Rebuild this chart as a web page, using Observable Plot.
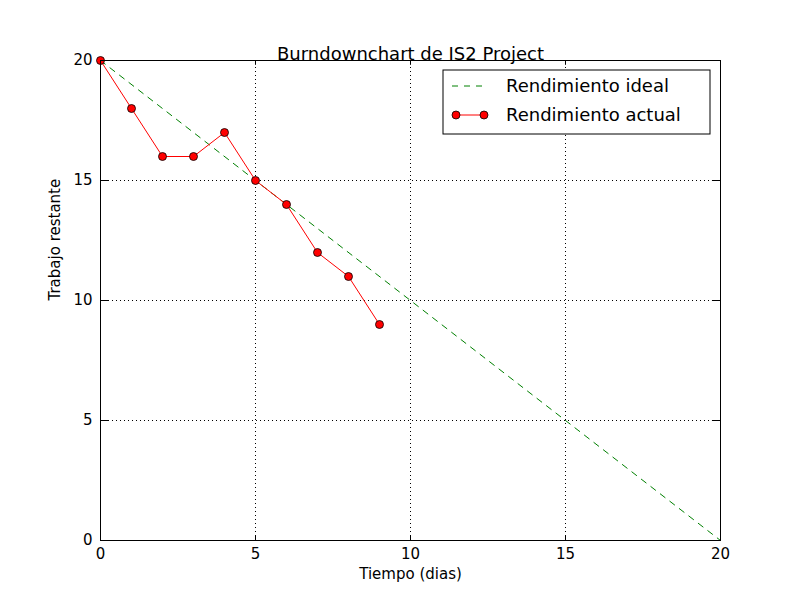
<!DOCTYPE html>
<html><head><meta charset="utf-8">
<script src="https://cdn.jsdelivr.net/npm/d3@7"></script>
<script src="https://cdn.jsdelivr.net/npm/@observablehq/plot@0.6"></script>
<style>body{margin:0;background:#fff}</style>
</head><body><div id="chart"></div>
<script>
const dias = [0,1,2,3,4,5,6,7,8,9]
const actual = [20,18,16,16,17,15,14,12,11,9]
const idealX = [0,20]
const idealY = [20,0]
const ticks = [0,5,10,15,20]

const ideal = idealX.map((d,i)=>({x:d, y:idealY[i]}))
const real = dias.map((d,i)=>({x:d, y:actual[i]}))

let chart = Plot.plot({
    width: 800, height: 600,
    marginLeft: 100, marginRight: 80, marginTop: 60, marginBottom: 60,
    style: {fontFamily: "DejaVu Sans", fontSize: "15px", background: "white"},
    x: {domain: [0,20], ticks: ticks, label: null},
    y: {domain: [0,20], ticks: ticks, label: null},
    marks: [
        Plot.ruleX(ticks, {x: d=>d, y1: 0, y2: 20, stroke: "black", strokeDasharray: "1,3"}),
        Plot.ruleY(ticks, {y: d=>d, x1: 0, x2: 20, stroke: "black", strokeDasharray: "1,3"}),
        Plot.axisX({ticks: ticks, tickSize: 0, tickPadding: 8, fill: "black"}),
        Plot.axisY({ticks: ticks, tickSize: 0, tickPadding: 8, fill: "black"}),
        Plot.ruleX(ticks, {x: d=>d, y1: 0, y2: 0.2, stroke: "black"}),
        Plot.ruleX(ticks, {x: d=>d, y1: 19.8, y2: 20, stroke: "black"}),
        Plot.ruleY(ticks, {y: d=>d, x1: 0, x2: 0.26, stroke: "black"}),
        Plot.ruleY(ticks, {y: d=>d, x1: 19.74, x2: 20, stroke: "black"}),
        Plot.line(ideal, {x: "x", y: "y", stroke: "green", strokeDasharray: "6,6", strokeWidth: 1}),
        Plot.line(real, {x: "x", y: "y", stroke: "red", strokeWidth: 1}),
        Plot.dot(real, {x: "x", y: "y", r: 4, fill: "red", stroke: "black", strokeWidth: 0.8}),
        Plot.frame({stroke: "black"}),
        Plot.text(["Burndownchart de IS2 Project"], {frameAnchor: "top", dy: -13, fontSize: 18, fill: "black"}),
        Plot.text(["Tiempo (dias)"], {frameAnchor: "bottom", dy: 38, fontSize: 15, fill: "black"}),
        Plot.text(["Trabajo restante"], {frameAnchor: "left", dx: -45, rotate: -90, fontSize: 15, fill: "black"})
    ]
})
d3.select("#chart").append(() => chart)

// legend
const svg = d3.select(chart)
const g = svg.append("g").attr("font-family", "DejaVu Sans").attr("font-size", 18)
  .attr("text-anchor", "start")
g.append("rect").attr("x", 443).attr("y", 70).attr("width", 267).attr("height", 64)
  .attr("fill", "white").attr("stroke", "black")
g.append("line").attr("x1", 452).attr("x2", 488).attr("y1", 86).attr("y2", 86)
  .attr("stroke", "green").attr("stroke-dasharray", "6,6")
g.append("text").attr("x", 506).attr("y", 92).attr("fill", "black").text("Rendimiento ideal")
g.append("line").attr("x1", 456).attr("x2", 484).attr("y1", 115).attr("y2", 115).attr("stroke", "red")
g.selectAll("circle.l").data([456,484]).join("circle").attr("cx", d=>d).attr("cy", 115).attr("r", 4)
  .attr("fill", "red").attr("stroke", "black").attr("stroke-width", 0.8)
g.append("text").attr("x", 506).attr("y", 121).attr("fill", "black").text("Rendimiento actual")
</script></body></html>
